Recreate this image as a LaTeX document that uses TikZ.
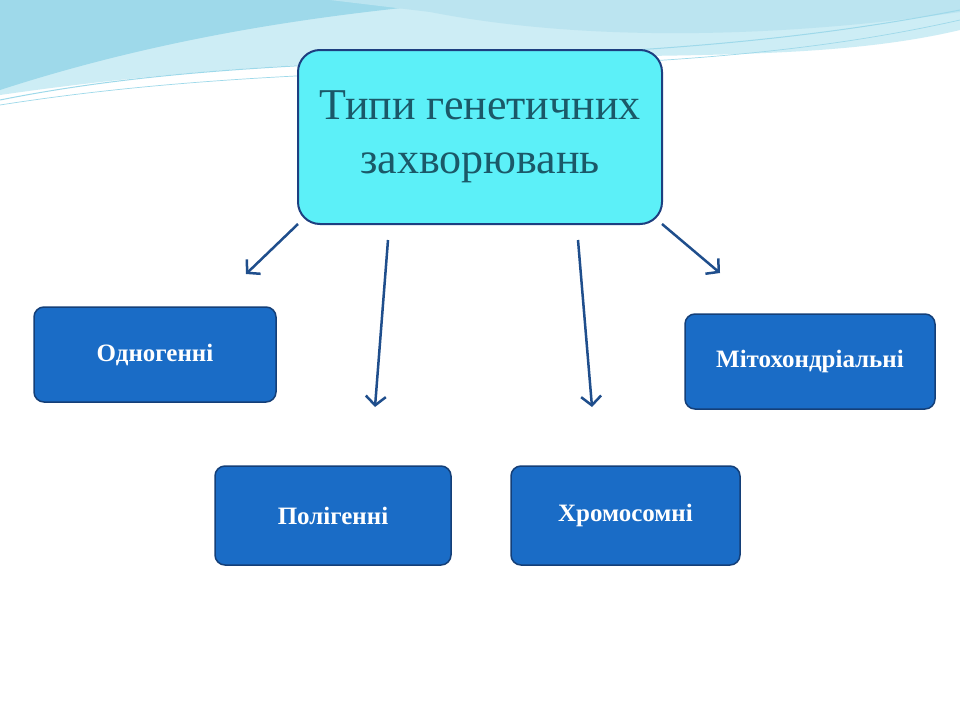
\documentclass[tikz,border=0pt]{standalone}
\usepackage{fontspec}
\setmainfont{Liberation Serif}
\usetikzlibrary{arrows.meta,shadows}
\definecolor{boxblue}{HTML}{1A6CC6}
\definecolor{boxedge}{HTML}{143F78}
\definecolor{titlefill}{HTML}{5CF0F8}
\definecolor{titleedge}{HTML}{1D3F80}
\definecolor{titletext}{HTML}{1B5868}
\definecolor{arrowc}{HTML}{1F4E8C}
\definecolor{wave1}{HTML}{9ED9EA}
\definecolor{wave2}{HTML}{CDEDF5}
\tikzset{
 sub/.style={draw=boxedge,line width=1.5pt,fill=boxblue,rounded corners=10pt,text=white,font=\bfseries\fontsize{25}{30}\selectfont,inner sep=0pt},
 arr/.style={draw=arrowc,line width=2.5pt,-{Straight Barb[length=9pt,width=20pt]}}
}
\begin{document}
\begin{tikzpicture}[x=1pt,y=-1pt]
\useasboundingbox (0,0) rectangle (960,720);
\fill[white] (0,0) rectangle (960,720);
% background waves
\fill[wave2] (0,0) -- (960,0) -- (960,30) .. controls (750,80) and (450,30) .. (0,95) -- cycle;
\fill[wave1] (0,0) -- (480,0) .. controls (380,10) and (200,25) .. (0,90) -- cycle;
\fill[wave1!70] (330,0) -- (960,0) -- (960,12) .. controls (800,35) and (600,45) .. (430,12) -- cycle;
\draw[wave1,line width=1pt] (0,100) .. controls (300,40) and (600,80) .. (960,10);
\draw[wave1,line width=0.7pt] (0,105) .. controls (350,50) and (650,90) .. (960,20);
% title
\node[draw=titleedge,line width=2pt,fill=titlefill,rounded corners=22pt,minimum width=364pt,minimum height=174pt,
      drop shadow={shadow xshift=0pt,shadow yshift=0pt,opacity=0.3,fill=cyan},align=center,
      text=titletext,font=\fontsize{44}{54}\selectfont] (title) at (480,137) {Типи генетичних\\захворювань};
% sub boxes
\node[sub,minimum width=242pt,minimum height=95pt] (a) at (155,354.5) {Одногенні};
\node[sub,minimum width=236pt,minimum height=99pt] (b) at (333,515.5) {Полігенні};
\node[sub,minimum width=229pt,minimum height=99pt] (c) at (625.5,515.5) {Хромосомні};
\node[sub,minimum width=250pt,minimum height=95pt] (d) at (810,361.5) {Мітохондріальні};
% arrows
\coordinate (s1) at (298,224); \coordinate (e1) at (246,274);
\coordinate (s2) at (388,240); \coordinate (e2) at (375,407);
\coordinate (s3) at (578,240); \coordinate (e3) at (592,407);
\coordinate (s4) at (662,224); \coordinate (e4) at (720,273);
\draw[arr] (s1) -- (e1);
\draw[arr] (s2) -- (e2);
\draw[arr] (s3) -- (e3);
\draw[arr] (s4) -- (e4);
\end{tikzpicture}
\end{document}
